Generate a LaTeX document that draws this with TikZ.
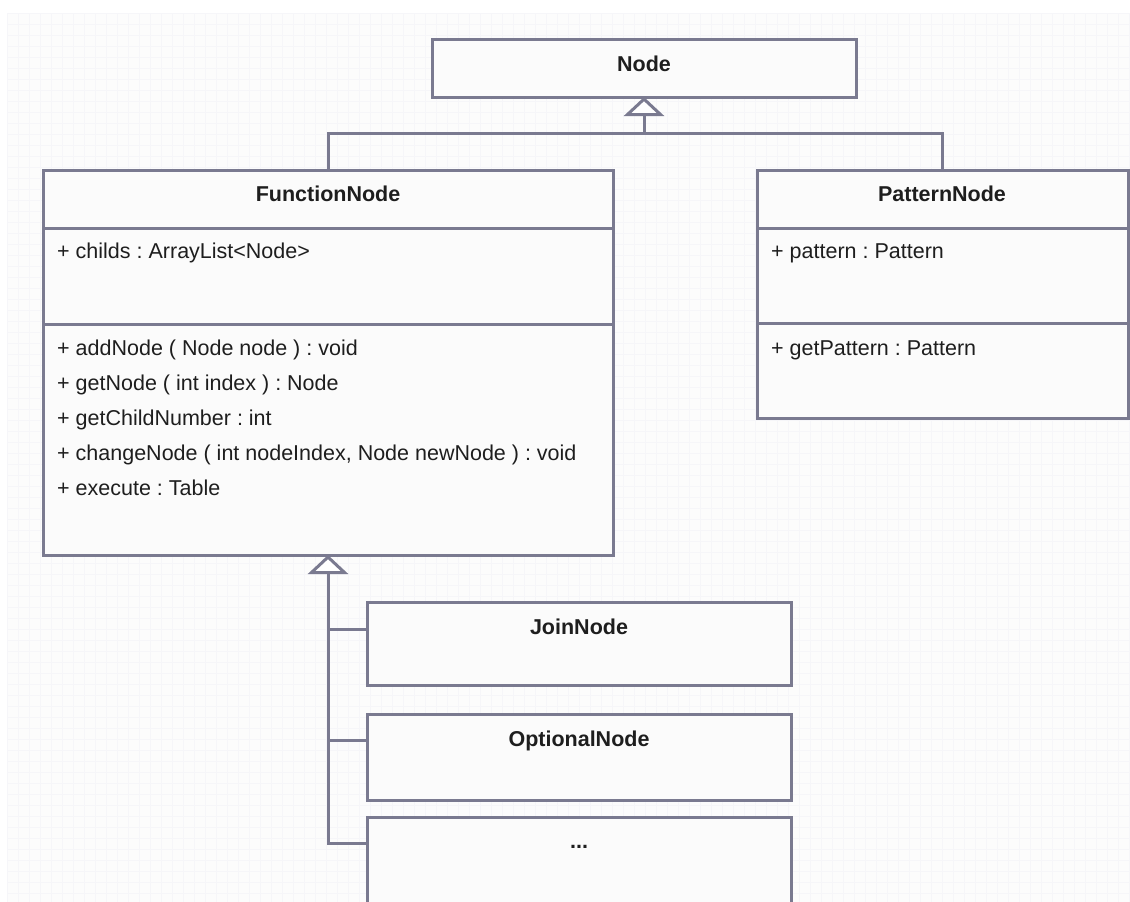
\documentclass[tikz,border=0pt]{standalone}
\usepackage{fontspec}
\setmainfont{Liberation Sans}
\usetikzlibrary{arrows.meta}
\definecolor{umlline}{RGB}{122,122,144}
\definecolor{gridc}{RGB}{246,246,249}
\definecolor{boxfill}{RGB}{251,251,251}
\definecolor{textc}{RGB}{30,30,30}
\frenchspacing
\begin{document}
\begin{tikzpicture}[x=1pt,y=-1pt,
  umlbox/.style={draw=umlline, line width=3pt, fill=boxfill, rectangle,
    inner sep=0pt, outer sep=0pt, anchor=north west},
  ttl/.style={font=\fontsize{21.5}{25}\selectfont\bfseries, anchor=base,
    inner sep=0pt, text=textc},
  member/.style={font=\fontsize{21.5}{25}\selectfont, anchor=base west,
    inner sep=0pt, text=textc},
  sepline/.style={draw=umlline, line width=3pt},
  gen/.style={draw=umlline, line width=3pt},
  genhead/.style={-{Triangle[length=19pt, width=40pt, fill=white]}}]

\useasboundingbox (0,0) rectangle (1130,902);
\begin{scope}
\clip (0,0) rectangle (1130,902);

% canvas with a faint grid
\fill[white] (0,0) rectangle (1130,902);
\fill[white!99!black] (7,13) rectangle (1130,902);
\foreach \gx in {7,18,...,1130} \draw[gridc, line width=0.5pt] (\gx,13) -- (\gx,902);
\foreach \gy in {13,24,...,902} \draw[gridc, line width=0.5pt] (7,\gy) -- (1130,\gy);

% class boxes
\node[umlbox, minimum width=424pt, minimum height=58pt] (base) at (432,39) {};
\node[umlbox, minimum width=570pt, minimum height=385pt] (fn) at (43,170) {};
\node[umlbox, minimum width=371pt, minimum height=248pt] (pn) at (757,170) {};
\node[umlbox, minimum width=424pt, minimum height=83pt] (jn) at (367,602) {};
\node[umlbox, minimum width=424pt, minimum height=86pt] (on) at (367,714) {};
\node[umlbox, minimum width=424pt, minimum height=110pt] (dots) at (367,817) {};

% compartment separators
\draw[sepline] ([yshift=-58pt]fn.north west) -- ([yshift=-58pt]fn.north east);
\draw[sepline] ([yshift=-154pt]fn.north west) -- ([yshift=-154pt]fn.north east);
\draw[sepline] ([yshift=-58pt]pn.north west) -- ([yshift=-58pt]pn.north east);
\draw[sepline] ([yshift=-153pt]pn.north west) -- ([yshift=-153pt]pn.north east);

% class names
\node[ttl] (tbase) at (644,71) {Node};
\node[ttl] (tfn) at (328,201) {FunctionNode};
\node[ttl] (tpn) at (942,201) {PatternNode};
\node[ttl] (tjn) at (579,634) {JoinNode};
\node[ttl] (ton) at (579,746) {OptionalNode};
\node[ttl] (tdots) at (579,848) {...};

% FunctionNode members
\node[member] (fa1) at (57,258) {+ childs : ArrayList<Node>};
\node[member] (fm1) at (57,355) {+ addNode ( Node node ) : void};
\node[member] (fm2) at (57,390) {+ getNode ( int index ) : Node};
\node[member] (fm3) at (57,425) {+ getChildNumber : int};
\node[member] (fm4) at (57,460) {+ changeNode ( int nodeIndex, Node newNode ) : void};
\node[member] (fm5) at (57,495) {+ execute : Table};

% PatternNode members
\node[member] (pa1) at (771,258) {+ pattern : Pattern};
\node[member] (pm1) at (771,355) {+ getPattern : Pattern};

% generalization: FunctionNode, PatternNode -> Node
\coordinate (j1) at (644,133);
\draw[gen] (fn.north) |- (j1) -| (pn.north);
\draw[gen, genhead] (j1) -- (base.south);

% generalization: JoinNode, OptionalNode, ... -> FunctionNode
\draw[gen, genhead] ([yshift=-26pt]dots.north west) -| (fn.south);
\draw[gen] ([yshift=-27pt]jn.north west) -- ([yshift=-27pt]jn.north west -| fn.south);
\draw[gen] ([yshift=-26pt]on.north west) -- ([yshift=-26pt]on.north west -| fn.south);
\end{scope}
\end{tikzpicture}
\end{document}
